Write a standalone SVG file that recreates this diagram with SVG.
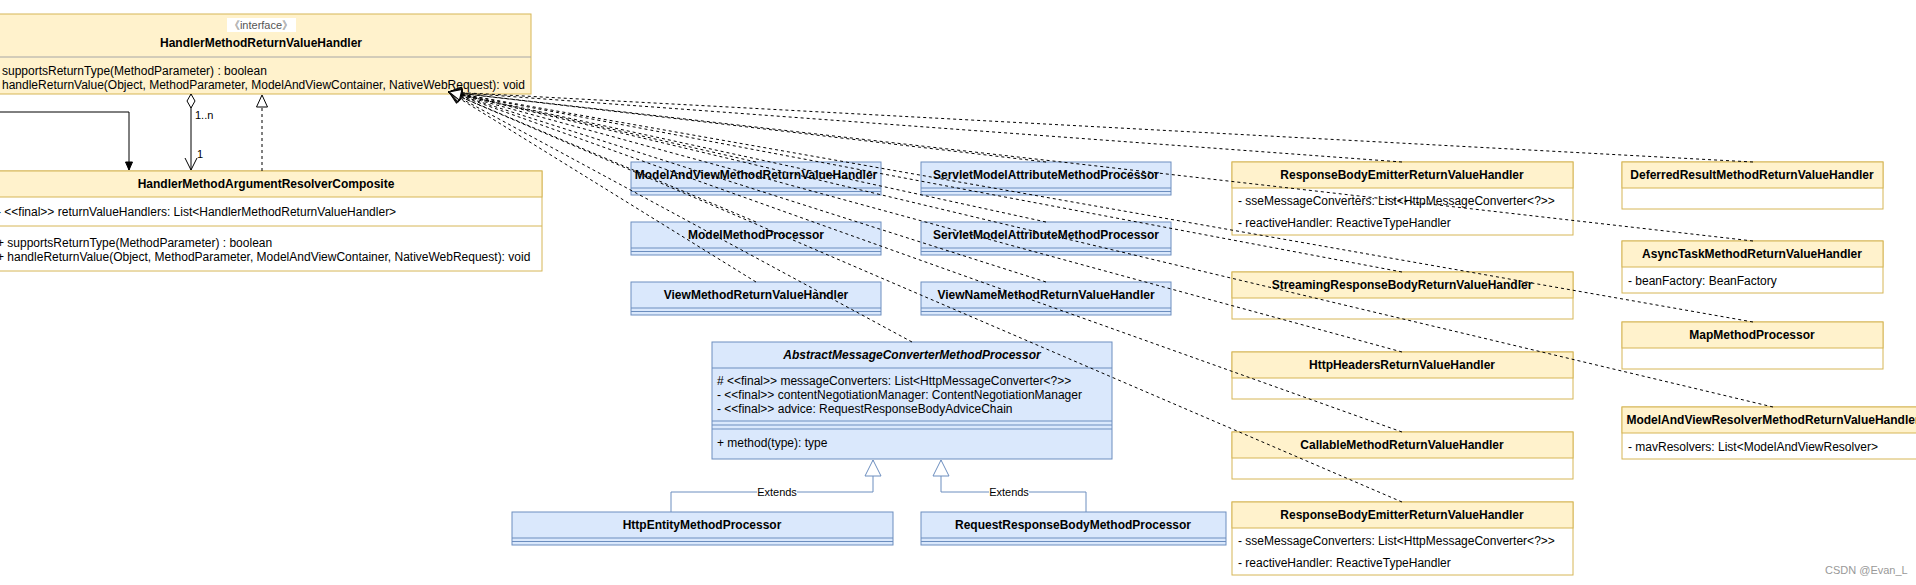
<svg xmlns="http://www.w3.org/2000/svg" width="1916" height="585" viewBox="0 0 1916 585">
<style>
text{font-family:"Liberation Sans",Arial,Helvetica,sans-serif;font-size:12px;fill:#000;dominant-baseline:central}
.t{font-weight:bold;text-anchor:middle}
.y{fill:#fff2cc;stroke:#d6b656;stroke-width:1}
.w{fill:#ffffff;stroke:#d6b656;stroke-width:1}
.b{fill:#dae8fc;stroke:#6c8ebf;stroke-width:1}
.yl{stroke:#d6b656;stroke-width:1}
.bl{stroke:#6c8ebf;stroke-width:1}
.d{fill:none;stroke:#000;stroke-width:1;stroke-dasharray:3 3;marker-end:url(#tri)}
.e{fill:none;stroke:#6c8ebf;stroke-width:1;marker-end:url(#btri)}
.lbl{font-size:11px;text-anchor:middle}
</style>
<defs>
<marker id="tri" viewBox="0 0 14 14" refX="13" refY="7" markerWidth="14" markerHeight="14" markerUnits="userSpaceOnUse" orient="auto"><path d="M1,1.5 L13,7 L1,12.5 z" fill="#fff" stroke="#000" stroke-width="1"/></marker>
<marker id="btri" viewBox="0 0 18 18" refX="17" refY="9" markerWidth="18" markerHeight="18" markerUnits="userSpaceOnUse" orient="auto"><path d="M1,1 L17,9 L1,17 z" fill="#fff" stroke="#6c8ebf" stroke-width="1"/></marker>
<marker id="blk" viewBox="0 0 10 10" refX="9" refY="5" markerWidth="10" markerHeight="10" markerUnits="userSpaceOnUse" orient="auto"><path d="M1,1.5 L9,5 L1,8.5 z" fill="#000" stroke="#000"/></marker>
<marker id="opn" viewBox="0 0 14 14" refX="13" refY="7" markerWidth="14" markerHeight="14" markerUnits="userSpaceOnUse" orient="auto"><path d="M1,1 L13,7 L1,13" fill="none" stroke="#000" stroke-width="1"/></marker>
<marker id="dia" viewBox="0 0 16 10" refX="1" refY="5" markerWidth="16" markerHeight="10" markerUnits="userSpaceOnUse" orient="auto"><path d="M1,5 L8,1 L15,5 L8,9 z" fill="#fff" stroke="#000" stroke-width="1"/></marker>
</defs>

<g id="HandlerMethodReturnValueHandler">
<rect class="y" x="-9" y="14" width="540" height="80"/>
<line x1="-9" y1="57" x2="531" y2="57" stroke="#a6a6a6"/>
<rect x="227" y="18" width="69" height="14" fill="#fff"/>
<text x="261" y="25" style="font-size:11px;text-anchor:middle;fill:#555">《interface》</text>
<text class="t" x="261" y="43">HandlerMethodReturnValueHandler</text>
<text x="2" y="71">supportsReturnType(MethodParameter) : boolean</text>
<text x="2" y="85">handleReturnValue(Object, MethodParameter, ModelAndViewContainer, NativeWebRequest): void</text>
</g>

<g id="HandlerMethodArgumentResolverComposite">
<rect class="w" x="-10" y="171" width="552" height="100"/>
<rect class="y" x="-10" y="171" width="552" height="26"/>
<text class="t" x="266" y="184">HandlerMethodArgumentResolverComposite</text>
<text x="-3" y="212">- &lt;&lt;final&gt;&gt; returnValueHandlers: List&lt;HandlerMethodReturnValueHandler&gt;</text>
<line class="yl" x1="-10" y1="226" x2="542" y2="226"/>
<text x="-3" y="243">+ supportsReturnType(MethodParameter) : boolean</text>
<text x="-3" y="257">+ handleReturnValue(Object, MethodParameter, ModelAndViewContainer, NativeWebRequest): void</text>
</g>

<g id="ModelAndViewMethodReturnValueHandler">
<rect class="b" x="631" y="162" width="250" height="33"/>
<line class="bl" x1="631" y1="188" x2="881" y2="188"/><line class="bl" x1="631" y1="191.5" x2="881" y2="191.5"/>
<text class="t" x="756" y="175">ModelAndViewMethodReturnValueHandler</text>
</g>
<g id="ServletModelAttributeMethodProcessor1">
<rect class="b" x="921" y="162" width="250" height="33"/>
<line class="bl" x1="921" y1="188" x2="1171" y2="188"/><line class="bl" x1="921" y1="191.5" x2="1171" y2="191.5"/>
<text class="t" x="1046" y="175">ServletModelAttributeMethodProcessor</text>
</g>
<g id="ModelMethodProcessor">
<rect class="b" x="631" y="222" width="250" height="33"/>
<line class="bl" x1="631" y1="248" x2="881" y2="248"/><line class="bl" x1="631" y1="251.5" x2="881" y2="251.5"/>
<text class="t" x="756" y="235">ModelMethodProcessor</text>
</g>
<g id="ServletModelAttributeMethodProcessor2">
<rect class="b" x="921" y="222" width="250" height="33"/>
<line class="bl" x1="921" y1="248" x2="1171" y2="248"/><line class="bl" x1="921" y1="251.5" x2="1171" y2="251.5"/>
<text class="t" x="1046" y="235">ServletModelAttributeMethodProcessor</text>
</g>
<g id="ViewMethodReturnValueHandler">
<rect class="b" x="631" y="282" width="250" height="33"/>
<line class="bl" x1="631" y1="308" x2="881" y2="308"/><line class="bl" x1="631" y1="311.5" x2="881" y2="311.5"/>
<text class="t" x="756" y="295">ViewMethodReturnValueHandler</text>
</g>
<g id="ViewNameMethodReturnValueHandler">
<rect class="b" x="921" y="282" width="250" height="33"/>
<line class="bl" x1="921" y1="308" x2="1171" y2="308"/><line class="bl" x1="921" y1="311.5" x2="1171" y2="311.5"/>
<text class="t" x="1046" y="295">ViewNameMethodReturnValueHandler</text>
</g>

<g id="AbstractMessageConverterMethodProcessor">
<rect class="b" x="712" y="342" width="400" height="117"/>
<line class="bl" x1="712" y1="368" x2="1112" y2="368"/>
<text class="t" x="912" y="355" style="font-style:italic">AbstractMessageConverterMethodProcessor</text>
<text x="717" y="381"># &lt;&lt;final&gt;&gt;  messageConverters: List&lt;HttpMessageConverter&lt;?&gt;&gt;</text>
<text x="717" y="395">- &lt;&lt;final&gt;&gt; contentNegotiationManager: ContentNegotiationManager</text>
<text x="717" y="409">- &lt;&lt;final&gt;&gt; advice: RequestResponseBodyAdviceChain</text>
<line class="bl" x1="712" y1="421" x2="1112" y2="421"/>
<line class="bl" x1="712" y1="425" x2="1112" y2="425"/>
<line class="bl" x1="712" y1="429" x2="1112" y2="429"/>
<text x="717" y="443">+ method(type): type</text>
</g>

<g id="HttpEntityMethodProcessor">
<rect class="b" x="512" y="512" width="381" height="33"/>
<line class="bl" x1="512" y1="538" x2="893" y2="538"/><line class="bl" x1="512" y1="541.5" x2="893" y2="541.5"/>
<text class="t" x="702" y="525">HttpEntityMethodProcessor</text>
</g>
<g id="RequestResponseBodyMethodProcessor">
<rect class="b" x="921" y="512" width="305" height="33"/>
<line class="bl" x1="921" y1="538" x2="1226" y2="538"/><line class="bl" x1="921" y1="541.5" x2="1226" y2="541.5"/>
<text class="t" x="1073" y="525">RequestResponseBodyMethodProcessor</text>
</g>

<g id="ResponseBodyEmitterReturnValueHandler1">
<rect class="w" x="1232" y="162" width="341" height="73"/>
<rect class="y" x="1232" y="162" width="341" height="26"/>
<text class="t" x="1402" y="175">ResponseBodyEmitterReturnValueHandler</text>
<text x="1238" y="201">- sseMessageConverters: List&lt;HttpMessageConverter&lt;?&gt;&gt;</text>
<text x="1238" y="223">- reactiveHandler: ReactiveTypeHandler</text>
</g>
<g id="StreamingResponseBodyReturnValueHandler">
<rect class="w" x="1232" y="272" width="341" height="47"/>
<rect class="y" x="1232" y="272" width="341" height="26"/>
<text class="t" x="1402" y="285">StreamingResponseBodyReturnValueHandler</text>
</g>
<g id="HttpHeadersReturnValueHandler">
<rect class="w" x="1232" y="352" width="341" height="47"/>
<rect class="y" x="1232" y="352" width="341" height="26"/>
<text class="t" x="1402" y="365">HttpHeadersReturnValueHandler</text>
</g>
<g id="CallableMethodReturnValueHandler">
<rect class="w" x="1232" y="432" width="341" height="47"/>
<rect class="y" x="1232" y="432" width="341" height="26"/>
<text class="t" x="1402" y="445">CallableMethodReturnValueHandler</text>
</g>
<g id="ResponseBodyEmitterReturnValueHandler2">
<rect class="w" x="1232" y="502" width="341" height="73"/>
<rect class="y" x="1232" y="502" width="341" height="26"/>
<text class="t" x="1402" y="515">ResponseBodyEmitterReturnValueHandler</text>
<text x="1238" y="541">- sseMessageConverters: List&lt;HttpMessageConverter&lt;?&gt;&gt;</text>
<text x="1238" y="563">- reactiveHandler: ReactiveTypeHandler</text>
</g>

<g id="DeferredResultMethodReturnValueHandler">
<rect class="w" x="1622" y="162" width="261" height="47"/>
<rect class="y" x="1622" y="162" width="261" height="26"/>
<text class="t" x="1752" y="175">DeferredResultMethodReturnValueHandler</text>
</g>
<g id="AsyncTaskMethodReturnValueHandler">
<rect class="w" x="1622" y="241" width="261" height="52"/>
<rect class="y" x="1622" y="241" width="261" height="26"/>
<text class="t" x="1752" y="254">AsyncTaskMethodReturnValueHandler</text>
<text x="1628" y="281">- beanFactory: BeanFactory</text>
</g>
<g id="MapMethodProcessor">
<rect class="w" x="1622" y="322" width="261" height="47"/>
<rect class="y" x="1622" y="322" width="261" height="26"/>
<text class="t" x="1752" y="335">MapMethodProcessor</text>
</g>
<g id="ModelAndViewResolverMethodReturnValueHandler">
<rect class="w" x="1622" y="407" width="302" height="52"/>
<rect class="y" x="1622" y="407" width="302" height="26"/>
<text class="t" x="1773" y="420">ModelAndViewResolverMethodReturnValueHandler</text>
<text x="1628" y="447">- mavResolvers: List&lt;ModelAndViewResolver&gt;</text>
</g>

<g id="connectors">
<path class="d" d="M756,162 L449,92"/>
<path class="d" d="M1046,162 L449,92"/>
<path class="d" d="M756,222 L449,92"/>
<path class="d" d="M1046,222 L449,92"/>
<path class="d" d="M756,282 L449,92"/>
<path class="d" d="M1046,282 L449,92"/>
<path class="d" d="M912,342 L449,92"/>
<path class="d" d="M1402,162 L449,92"/>
<path class="d" d="M1402,272 L449,92"/>
<path class="d" d="M1402,352 L449,92"/>
<path class="d" d="M1402,432 L449,92"/>
<path class="d" d="M1402,502 L449,92"/>
<path class="d" d="M1753,162 L449,92"/>
<path class="d" d="M1753,241 L449,92"/>
<path class="d" d="M1753,322 L449,92"/>
<path class="d" d="M1773,407 L449,92"/>
<path d="M-5,112 L129,112 L129,170" fill="none" stroke="#000" stroke-width="1" marker-end="url(#blk)"/>
<path d="M191,94 L191,170" fill="none" stroke="#000" stroke-width="1" marker-start="url(#dia)" marker-end="url(#opn)"/>
<text x="195" y="115" style="font-size:11px">1..n</text>
<text x="197" y="154" style="font-size:11px">1</text>
<path d="M262,171 L262,95" fill="none" stroke="#000" stroke-width="1" stroke-dasharray="3 3" marker-end="url(#tri)"/>
<path class="e" d="M671,512 L671,492 L873,492 L873,460"/>
<rect x="757" y="485" width="40" height="14" fill="#fff"/>
<text class="lbl" x="777" y="492">Extends</text>
<path class="e" d="M1086,512 L1086,492 L941,492 L941,460"/>
<rect x="989" y="485" width="40" height="14" fill="#fff"/>
<text class="lbl" x="1009" y="492">Extends</text>
</g>

<text x="1825" y="570" style="font-size:11px;fill:#999">CSDN @Evan_L</text>
</svg>
